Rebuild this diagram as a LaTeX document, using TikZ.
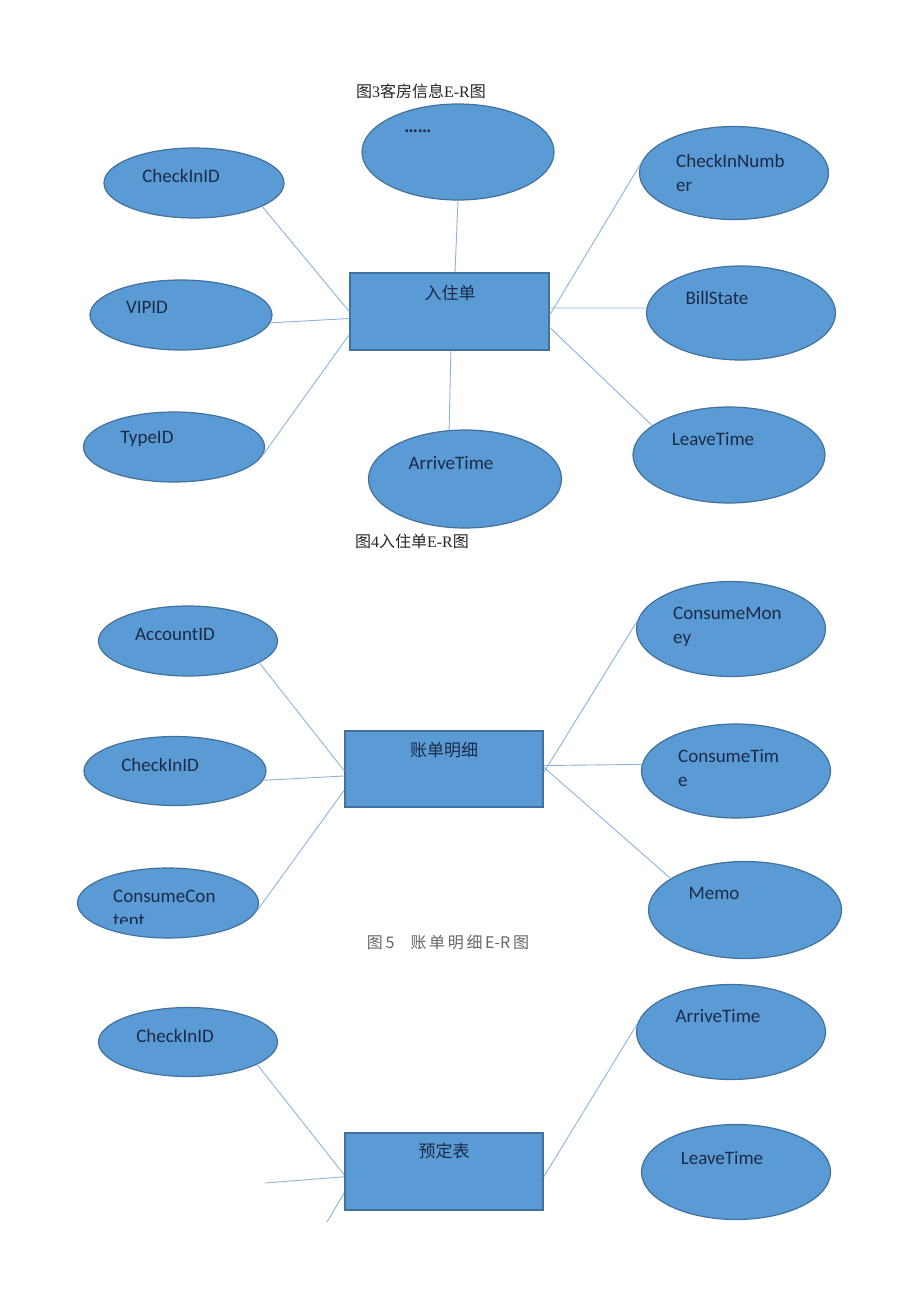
\documentclass[tikz,border=0pt]{standalone}
\usepackage{fontspec}
\setmainfont{Carlito}
\newfontfamily\cjk{Noto Sans CJK SC}
\newfontfamily\serifl{Liberation Serif}
\usetikzlibrary{shapes.geometric}
\definecolor{efill}{HTML}{5B9BD5}
\definecolor{edraw}{HTML}{41719C}
\definecolor{lnk}{HTML}{8EB4DC}
\definecolor{etxt}{HTML}{1B2A47}
\tikzset{
  attr/.style={ellipse, fill=efill, draw=edraw, line width=1.2pt, inner sep=0pt},
  ent/.style={rectangle, fill=efill, draw=edraw, line width=1.5pt, inner sep=0pt},
  txt/.style={text=etxt, font=\fontsize{19}{24}\selectfont, inner sep=0pt},
  ctxt/.style={text=etxt, font=\cjk\fontsize{17}{20}\selectfont, inner sep=0pt},
  link/.style={draw=lnk, line width=0.9pt},
  captxt/.style={font=\fontsize{16}{18}\selectfont, inner sep=0pt, text=black!85}
}
\begin{document}
\begin{tikzpicture}[x=1pt,y=-1pt]
\useasboundingbox (0,0) rectangle (920,1301);
\fill[white] (0,0) rectangle (920,1301);

% ---------- Figure 4 ----------
\node[captxt] (cap3) at (421,91) {{\cjk 图}{\serifl 3}{\cjk 客房信息}{\serifl E-R}{\cjk 图}};

\node[ent, minimum width=199pt, minimum height=77pt] (r1) at (449.5,311.5) {};
\node[ctxt] (r1t) at (450,293) {入住单};

\node[attr, minimum width=192pt, minimum height=96pt] (dots) at (458,152) {};
\node[txt, font=\bfseries\fontsize{19}{24}\selectfont] (dotst) at (418,131) {……};
\node[attr, minimum width=180pt, minimum height=70pt] (a1) at (194,183) {};
\node[txt] (a1t) at (181,176) {CheckInID};
\node[attr, minimum width=182pt, minimum height=70pt] (a2) at (181,315) {};
\node[txt] (a2t) at (147,307) {VIPID};
\node[attr, minimum width=181pt, minimum height=70pt] (a3) at (174,447) {};
\node[txt] (a3t) at (147,439) {TypeID};
\node[attr, minimum width=193pt, minimum height=98pt] (a4) at (465,479) {};
\node[txt] (a4t) at (451,463) {ArriveTime};
\node[attr, minimum width=189pt, minimum height=93pt] (a5) at (734,173) {};
\node[txt, anchor=west, align=left] (a5t) at (676,173) {CheckInNumb\\er};
\node[attr, minimum width=189pt, minimum height=94pt] (a6) at (741,313) {};
\node[txt] (a6t) at (717,298) {BillState};
\node[attr, minimum width=192pt, minimum height=96pt] (a7) at (729,455) {};
\node[txt] (a7t) at (713,439) {LeaveTime};

\draw[link] (a1.-19) -- (r1.west);
\draw[link] (a2.-5) -- (r1.184);
\draw[link] (a3.-6) -- (r1.193);
\draw[link] (dots.south) -- (r1.82);
\draw[link] (a4.108) -- (r1.-88);
\draw[link] (a5.174) -- (r1.-2.6);
\draw[link] (a6.177) -- (r1.2.6);
\draw[link] (a7.159) -- (r1.-9.4);

\node[captxt] (cap4) at (412,541) {{\cjk 图}{\serifl 4}{\cjk 入住单}{\serifl E-R}{\cjk 图}};

% ---------- Figure 5 ----------
\node[ent, minimum width=198pt, minimum height=76pt] (r2) at (444,769) {};
\node[ctxt] (r2t) at (444,750) {账单明细};

\node[attr, minimum width=179pt, minimum height=70pt] (b1) at (188,641) {};
\node[txt] (b1t) at (175,634) {AccountID};
\node[attr, minimum width=182pt, minimum height=69pt] (b2) at (175,771) {};
\node[txt] (b2t) at (160,765) {CheckInID};
\node[attr, minimum width=181pt, minimum height=70pt] (b3) at (168,903) {};
\begin{scope}
\clip (100,878) rectangle (250,923);
\node[txt, anchor=west, align=left] (b3t) at (113,908) {ConsumeCon\\tent};
\end{scope}
\node[attr, minimum width=189pt, minimum height=95pt] (b4) at (731,629) {};
\node[txt, anchor=west, align=left] (b4t) at (673,627) {ConsumeMon\\ey};
\node[attr, minimum width=189pt, minimum height=94pt] (b5) at (736,771) {};
\node[txt, anchor=west, align=left] (b5t) at (678,768) {ConsumeTim\\e};
\node[attr, minimum width=193pt, minimum height=97pt] (b6) at (745,910) {};
\node[txt] (b6t) at (714,893) {Memo};

\draw[link] (b1.-17) -- (r2.181.7);
\draw[link] (b2.-6.3) -- (r2.184);
\draw[link] (b3.-6) -- (r2.192.5);
\draw[link] (b4.175.7) -- (r2.-2.3);
\draw[link] (b5.176) -- (r2.2.9);
\draw[link] (b6.157.5) -- (r2.1.7);

\node[font=\cjk\fontsize{16}{18}\selectfont, text=black!60, inner sep=0pt] (cap5) at (448,942) {图\,5\quad 账\,单\,明\,细\,E-R\,图};

% ---------- Figure 6 ----------
\node[ent, minimum width=198pt, minimum height=77pt] (r3) at (444,1171.5) {};
\node[ctxt] (r3t) at (444,1151) {预定表};

\node[attr, minimum width=179pt, minimum height=69pt] (c1) at (188,1042) {};
\node[txt] (c1t) at (175,1036) {CheckInID};
\node[attr, minimum width=189pt, minimum height=95pt] (c2) at (731,1032) {};
\node[txt] (c2t) at (718,1016) {ArriveTime};
\node[attr, minimum width=189pt, minimum height=95pt] (c3) at (736,1172) {};
\node[txt] (c3t) at (722,1158) {LeaveTime};

\coordinate (f1) at (265,1183);
\coordinate (f2) at (327,1222);
\draw[link] (c1.-18.9) -- (r3.182);
\draw[link] (f1) -- (r3.183.8);
\draw[link] (f2) -- (r3.192.2);
\draw[link] (c2.175.7) -- (r3.-3.2);
\end{tikzpicture}
\end{document}
